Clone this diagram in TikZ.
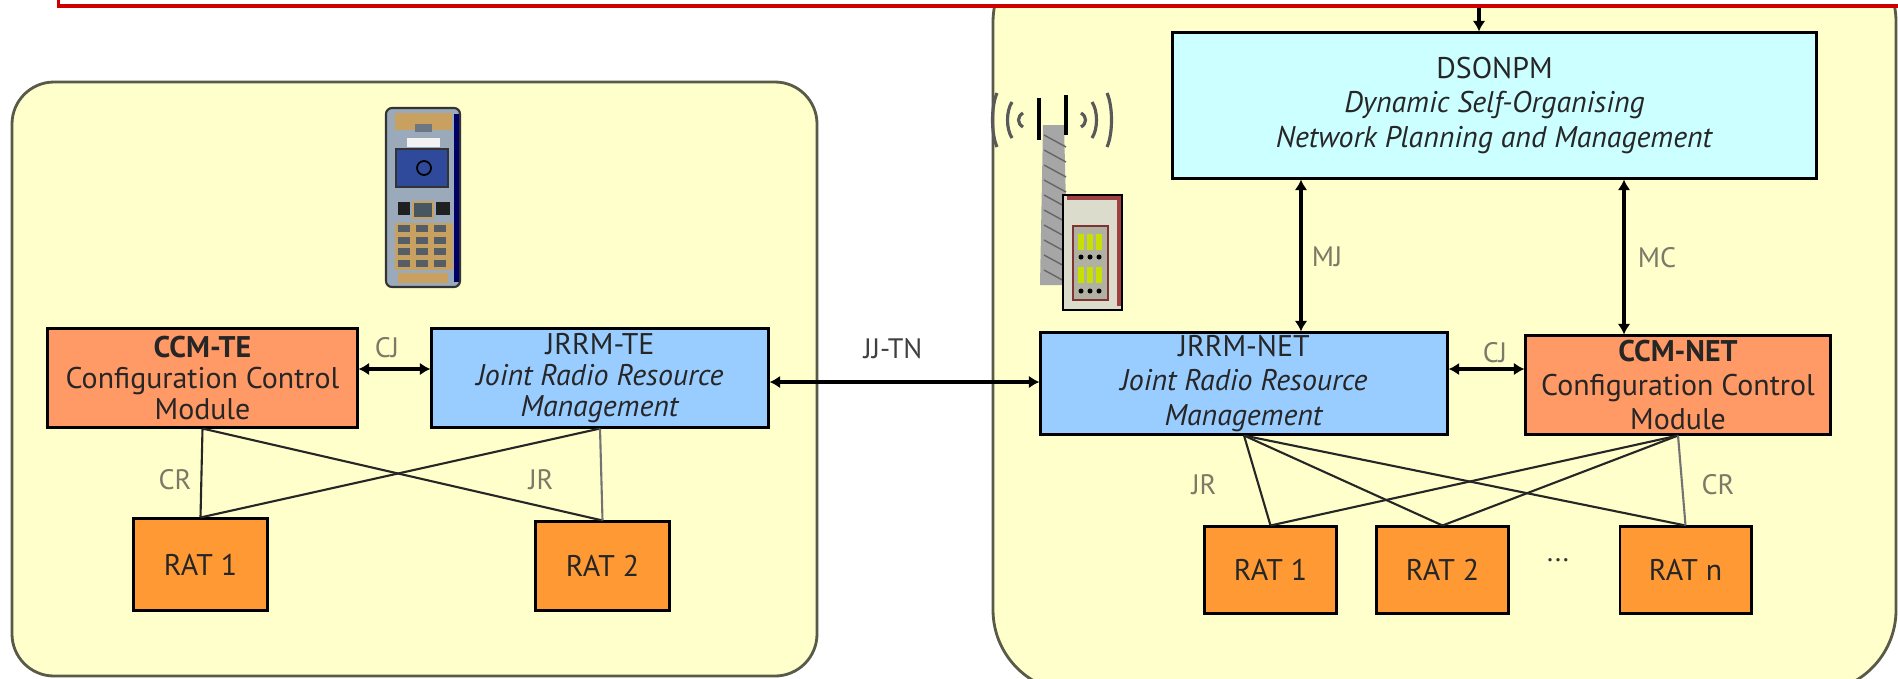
\documentclass[tikz,border=0pt]{standalone}
\usepackage{fontspec}
\setmainfont{PT Sans}
\usetikzlibrary{arrows.meta}

\definecolor{boxyellow}{HTML}{FFFFCC}
\definecolor{frameolive}{HTML}{5A5A48}
\definecolor{dsonpmcyan}{HTML}{CCFFFF}
\definecolor{jrrmblue}{HTML}{99CCFF}
\definecolor{ccmsalmon}{HTML}{FF9966}
\definecolor{ratorange}{HTML}{FF9933}
\definecolor{lblgray}{HTML}{7A7A66}
\definecolor{ctrlred}{HTML}{CC0000}
\definecolor{phonegray}{HTML}{9AAABB}
\definecolor{phonetan}{HTML}{C8A060}
\definecolor{screenblue}{HTML}{2F4A9A}
\definecolor{cabred}{HTML}{A04040}
\definecolor{cabgray}{HTML}{DCDCCC}
\definecolor{ledgreen}{HTML}{C8E000}

\newcommand{\diagfont}{\fontsize{8.5}{9.8}\selectfont}
\newcommand{\tefont}{\fontsize{8.5}{8.7}\selectfont}
\newcommand{\lblfont}{\fontsize{8}{9}\selectfont}

\tikzset{
  container/.style={draw=frameolive, line width=0.8pt, fill=boxyellow},
  block/.style={draw, line width=0.85pt, inner sep=0pt, align=center, text=black!85, font=\diagfont},
  lbl/.style={text=lblgray, font=\lblfont, inner sep=0pt},
  link/.style={line width=0.6pt, draw=black!85},
  iface/.style={<->, line width=1.1pt},
}

\begin{document}
\begin{tikzpicture}[x=0.01cm,y=-0.01cm,>={Latex[length=3pt,width=3.6pt]}]
        \useasboundingbox (0,0) rectangle (1898,678);
        \fill[white] (0,0) rectangle (1898,678);
        \draw[container, rounded corners=0.42cm] (12,82) rectangle (817,676);
        \draw[container, rounded corners=0.82cm] (993,-60) rectangle (1896,692);
        \node[draw=ctrlred, line width=0.9pt, fill=white, inner sep=0pt, minimum width=19cm, minimum height=1cm, anchor=south west] (Control) at (57,7.5) {};

        \filldraw[draw=black!80, fill=phonegray, line width=0.6pt, rounded corners=0.06cm] (386,108) rectangle (460,287);
        \fill[black!60!blue] (454,114) rectangle (459,282);
        \fill[phonetan] (395,113) rectangle (452,130);
        \fill[phonegray!70!black] (415,124) rectangle (432,132);
        \fill[white!90!gray] (407,138) rectangle (440,147);
        \filldraw[draw=black!80, fill=screenblue, line width=0.6pt] (396,149) rectangle (448,187);
        \draw[black, line width=0.5pt] (424,168) circle (0.07cm);
        \fill[black!75!gray] (398,202) rectangle (410,215);
        \fill[black!75!gray] (436,202) rectangle (450,215);
        \filldraw[draw=phonetan, fill=black!70!cyan, line width=0.5pt] (413,202) rectangle (433,218);
        \fill[phonetan] (395,223) rectangle (453,270);
        \foreach \r in {0,...,3}
          \foreach \c in {0,1,2}
            \fill[phonegray!55!black] ({398+\c*18},{225+\r*11.5}) rectangle ({410+\c*18},{232+\r*11.5});
        \fill[phonetan] (398,273) rectangle (448,283);

        \foreach \dx/\h in {55/27,40/18,29/7} {
          \draw[black!65, line width=0.9pt] ({1052-\dx},{120-\h}) .. controls ({1046-\dx},{120-\h/2}) and ({1046-\dx},{120+\h/2}) .. ({1052-\dx},{120+\h});
          \draw[black!65, line width=0.9pt] ({1052+\dx},{120-\h}) .. controls ({1058+\dx},{120-\h/2}) and ({1058+\dx},{120+\h/2}) .. ({1052+\dx},{120+\h});
        }
        \fill[gray!70] (1043,125) -- (1064,125) -- (1068,285) -- (1040,285) -- cycle;
        \foreach \y in {135,150,...,270}
          \draw[black!60, line width=0.4pt] (1044,\y) -- (1066,{\y+12});
        \fill[black] (1037,98) rectangle (1041,140);
        \fill[black] (1064,95) rectangle (1068,135);
        \filldraw[draw=black, fill=cabgray, line width=0.8pt] (1063,195) rectangle (1122,310);
        \draw[cabred, line width=1.2pt] (1067,198) -- (1119,198) -- (1119,306);
        \filldraw[draw=cabred!80!black, fill=cabgray!80!black, line width=0.8pt] (1073,226) rectangle (1108,300);
        \foreach \x in {1081,1090,1099} {
          \fill[ledgreen] ({\x-3},234) rectangle ({\x+3},250);
          \fill[ledgreen] ({\x-3},267) rectangle ({\x+3},283);
          \fill[black] (\x,257) circle (0.025cm);
          \fill[black] (\x,291) circle (0.025cm);
        }

        \node[block, fill=dsonpmcyan, minimum width=6.43cm, minimum height=1.45cm] (DSONPM) at (1494.5,105.5) {DSONPM\\\textit{Dynamic Self-Organising}\\\textit{Network Planning and Management}};
        \node[block, fill=jrrmblue, minimum width=4.06cm, minimum height=1.01cm] (JRRM_NET) at (1244,383.5) {JRRM-NET\\\textit{Joint Radio Resource}\\\textit{Management}};
        \node[block, fill=ccmsalmon, minimum width=3.04cm, minimum height=0.98cm] (CCM_NET) at (1678,385) {\textbf{CCM-NET}\\Configuration Control\\Module};
        \node[block, fill=ratorange, minimum width=1.31cm, minimum height=0.86cm] (RAT1_NET) at (1270.5,570) {RAT 1};
        \node[block, fill=ratorange, minimum width=1.31cm, minimum height=0.86cm] (RAT2_NET) at (1442.5,570) {RAT 2};
        \node[block, fill=ratorange, minimum width=1.31cm, minimum height=0.86cm] (RATn_NET) at (1685.5,570) {RAT n};
        \node[text=black!80, font=\lblfont] (Dots) at (1558,560) {...};

        \node[block, font=\tefont, fill=ccmsalmon, minimum width=3.09cm, minimum height=0.98cm] (CCM_TE) at (202.5,378) {\textbf{CCM-TE}\\Configuration Control\\Module};
        \node[block, font=\tefont, fill=jrrmblue, minimum width=3.36cm, minimum height=0.98cm] (JRRM_TE) at (600,378) {JRRM-TE\\\textit{Joint Radio Resource}\\\textit{Management}};
        \node[block, fill=ratorange, minimum width=1.33cm, minimum height=0.91cm] (RAT1_TE) at (200.5,564.5) {RAT 1};
        \node[block, fill=ratorange, minimum width=1.33cm, minimum height=0.88cm] (RAT2_TE) at (602.5,566) {RAT 2};

        \coordinate (Feed) at (1479,0);
        \coordinate (MJ_x) at (1301,0);
        \coordinate (MC_x) at (1624,0);
        \coordinate (CJ_y) at (0,369);
        \coordinate (JJ_y) at (0,382);

        \draw[->, line width=1.1pt] (Control.south -| Feed) -- (DSONPM.north -| Feed);
        \draw[iface] (DSONPM.south -| MJ_x) -- (JRRM_NET.north -| MJ_x);
        \draw[iface] (DSONPM.south -| MC_x) -- (CCM_NET.north -| MC_x);
        \draw[iface] (JRRM_NET.east |- CJ_y) -- (CCM_NET.west |- CJ_y);
        \draw[iface] (CCM_TE.east |- CJ_y) -- (JRRM_TE.west |- CJ_y);
        \draw[iface] (JRRM_TE.east |- JJ_y) -- (JRRM_NET.west |- JJ_y);

        \draw[link] (JRRM_NET.south) -- (RAT1_NET.north);
        \draw[link] (JRRM_NET.south) -- (RAT2_NET.north);
        \draw[link] (JRRM_NET.south) -- (RATn_NET.north);
        \draw[link] (CCM_NET.south) -- (RAT1_NET.north);
        \draw[link] (CCM_NET.south) -- (RAT2_NET.north);
        \draw[link, draw=black!55] (CCM_NET.south) -- (RATn_NET.north);
        \draw[link] (CCM_TE.south) -- (RAT1_TE.north);
        \draw[link] (CCM_TE.south) -- (RAT2_TE.north);
        \draw[link] (JRRM_TE.south) -- (RAT1_TE.north);
        \draw[link, draw=black!55] (JRRM_TE.south) -- (RAT2_TE.north);

        \node[lbl] (MJ) at (1327,257) {MJ};
        \node[lbl] (MC) at (1657,258) {MC};
        \node[lbl] (CJ_NET) at (1495,353) {CJ};
        \node[lbl] (JR_NET) at (1204,485) {JR};
        \node[lbl] (CR_NET) at (1718,485) {CR};
        \node[lbl] (CJ_TE) at (387,348) {CJ};
        \node[lbl] (CR_TE) at (175,480) {CR};
        \node[lbl] (JR_TE) at (541,480) {JR};
        \node[lbl, text=black!75] (JJ_TN) at (893,349) {JJ-TN};
\end{tikzpicture}
\end{document}
